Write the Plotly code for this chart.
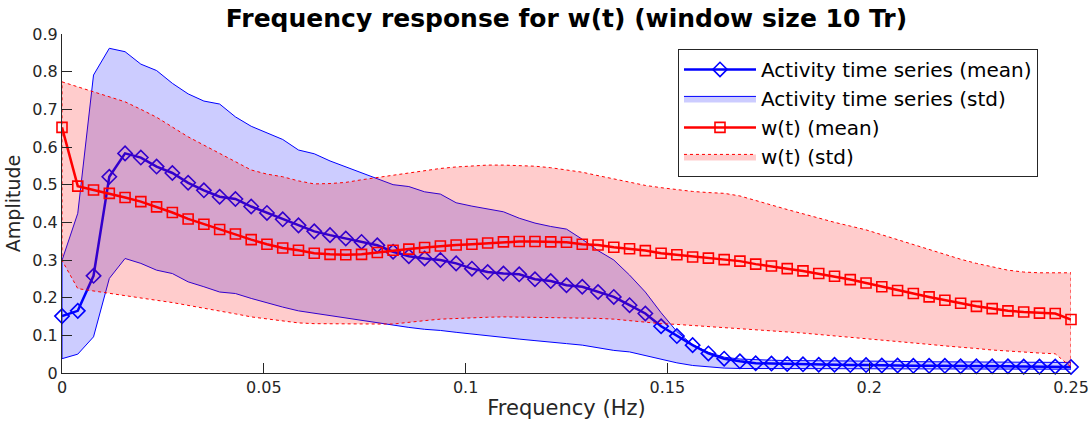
import plotly.graph_objects as go

# Frequency axis: 65 bins from 0 to 0.25 Hz
n_bins = 65
freq = [i * 0.25 / (n_bins - 1) for i in range(n_bins)]

act_mean = [0.151, 0.165, 0.258, 0.521, 0.583, 0.572, 0.548, 0.531, 0.505, 0.485,
            0.468, 0.462, 0.442, 0.425, 0.408, 0.392, 0.376, 0.366, 0.357, 0.348,
            0.339, 0.322, 0.310, 0.304, 0.300, 0.291, 0.277, 0.268, 0.264, 0.262,
            0.249, 0.244, 0.233, 0.229, 0.215, 0.202, 0.180, 0.158, 0.124, 0.098,
            0.074, 0.052, 0.038, 0.031, 0.026, 0.025, 0.024, 0.023, 0.022, 0.022,
            0.021, 0.021, 0.020, 0.020, 0.019, 0.019, 0.019, 0.018, 0.018, 0.018,
            0.018, 0.017, 0.017, 0.017, 0.016]

act_upper = [0.299, 0.424, 0.791, 0.862, 0.853, 0.820, 0.803, 0.769, 0.741, 0.722,
             0.714, 0.680, 0.655, 0.638, 0.620, 0.592, 0.582, 0.563, 0.547, 0.530,
             0.516, 0.500, 0.495, 0.481, 0.475, 0.452, 0.443, 0.435, 0.428, 0.411,
             0.398, 0.389, 0.382, 0.355, 0.325, 0.300, 0.260, 0.215, 0.160, 0.110,
             0.075, 0.055, 0.042, 0.037, 0.035, 0.034, 0.033, 0.033, 0.032, 0.032,
             0.032, 0.031, 0.031, 0.031, 0.030, 0.030, 0.030, 0.030, 0.029, 0.029,
             0.029, 0.029, 0.028, 0.028, 0.028]

act_lower = [0.038, 0.050, 0.096, 0.251, 0.304, 0.291, 0.273, 0.264, 0.242, 0.229,
             0.215, 0.211, 0.198, 0.186, 0.175, 0.165, 0.158, 0.152, 0.146, 0.140,
             0.134, 0.127, 0.121, 0.116, 0.113, 0.108, 0.103, 0.098, 0.094, 0.090,
             0.086, 0.083, 0.078, 0.074, 0.067, 0.060, 0.056, 0.047, 0.036, 0.027,
             0.020, 0.016, 0.013, 0.012, 0.011, 0.011, 0.011, 0.011, 0.011, 0.011,
             0.010, 0.010, 0.010, 0.010, 0.010, 0.010, 0.010, 0.010, 0.010, 0.010,
             0.010, 0.010, 0.010, 0.010, 0.010]

w_mean = [0.652, 0.496, 0.486, 0.477, 0.466, 0.455, 0.441, 0.426, 0.409, 0.395,
          0.381, 0.369, 0.354, 0.342, 0.332, 0.326, 0.318, 0.315, 0.314, 0.315,
          0.320, 0.326, 0.329, 0.333, 0.337, 0.340, 0.342, 0.345, 0.348, 0.349,
          0.349, 0.348, 0.347, 0.342, 0.340, 0.334, 0.330, 0.325, 0.318, 0.314,
          0.308, 0.305, 0.301, 0.297, 0.289, 0.284, 0.277, 0.271, 0.264, 0.257,
          0.248, 0.239, 0.229, 0.219, 0.211, 0.202, 0.193, 0.185, 0.177, 0.171,
          0.165, 0.162, 0.159, 0.158, 0.142]

w_upper = [0.773, 0.760, 0.747, 0.734, 0.720, 0.700, 0.679, 0.653, 0.627, 0.605,
           0.583, 0.561, 0.539, 0.528, 0.521, 0.510, 0.502, 0.503, 0.506, 0.513,
           0.519, 0.526, 0.532, 0.538, 0.543, 0.547, 0.550, 0.552, 0.552, 0.550,
           0.549, 0.545, 0.539, 0.533, 0.524, 0.515, 0.506, 0.498, 0.492, 0.486,
           0.482, 0.479, 0.477, 0.470, 0.457, 0.446, 0.434, 0.422, 0.411, 0.400,
           0.390, 0.380, 0.367, 0.354, 0.340, 0.327, 0.314, 0.302, 0.291, 0.281,
           0.273, 0.268, 0.266, 0.266, 0.266]

w_lower = [0.299, 0.224, 0.217, 0.211, 0.205, 0.199, 0.193, 0.187, 0.180, 0.172,
           0.165, 0.157, 0.149, 0.143, 0.138, 0.133, 0.131, 0.130, 0.130, 0.130,
           0.130, 0.130, 0.134, 0.139, 0.143, 0.145, 0.147, 0.148, 0.149, 0.149,
           0.149, 0.148, 0.147, 0.146, 0.145, 0.143, 0.139, 0.135, 0.131, 0.129,
           0.127, 0.124, 0.121, 0.118, 0.115, 0.112, 0.109, 0.106, 0.102, 0.098,
           0.095, 0.092, 0.088, 0.084, 0.080, 0.076, 0.072, 0.068, 0.065, 0.061,
           0.058, 0.055, 0.053, 0.051, 0.016]

x_ticks = [0, 0.05, 0.1, 0.15, 0.2, 0.25]
x_tick_labels = ["0", "0.05", "0.1", "0.15", "0.2", "0.25"]
y_ticks = [0, 0.1, 0.2, 0.3, 0.4, 0.5, 0.6, 0.7, 0.8, 0.9]
y_tick_labels = ["0", "0.1", "0.2", "0.3", "0.4", "0.5", "0.6", "0.7", "0.8", "0.9"]

FONT = "DejaVu Sans"
AX = "#262626"

poly_x = freq + freq[::-1] + [freq[0]]

fig = go.Figure()
fig.add_trace(go.Scatter(
    x=freq, y=act_mean, mode="lines+markers", name="Activity time series (mean)",
    line=dict(color="#0000FF", width=2.5),
    marker=dict(symbol="diamond-open", size=11, color="#0000FF", line=dict(width=1.6)),
    cliponaxis=False))
fig.add_trace(go.Scatter(
    x=poly_x, y=act_upper + act_lower[::-1] + [act_upper[0]], mode="lines",
    fill="toself", fillcolor="rgba(0,0,255,0.2)", name="Activity time series (std)",
    line=dict(color="#0000FF", width=1)))
fig.add_trace(go.Scatter(
    x=freq, y=w_mean, mode="lines+markers", name="w(t) (mean)",
    line=dict(color="#FF0000", width=2.5),
    marker=dict(symbol="square-open", size=10, color="#FF0000", line=dict(width=1.6)),
    cliponaxis=False))
fig.add_trace(go.Scatter(
    x=poly_x, y=w_upper + w_lower[::-1] + [w_upper[0]], mode="lines",
    fill="toself", fillcolor="rgba(255,0,0,0.2)", name="w(t) (std)",
    line=dict(color="#FF0000", width=1, dash="3px,3px")))

fig.update_layout(
    width=1089, height=425,
    margin=dict(l=62, r=18, t=34, b=52, autoexpand=False),
    paper_bgcolor="white", plot_bgcolor="white",
    font=dict(family=FONT, color=AX, size=16),
    title=dict(text="<b>Frequency response for w(t) (window size 10 Tr)</b>",
               x=(62 + 1071) / 2 / 1089, xanchor="center", y=1 - 18 / 425, yanchor="middle",
               font=dict(family=FONT, size=25, color="black")),
    showlegend=True,
    legend=dict(x=0.6105, y=0.956, xanchor="left", yanchor="top",
                bgcolor="white", bordercolor="#262626", borderwidth=1,
                font=dict(family=FONT, size=20, color="black"),
                itemwidth=72, tracegroupgap=0),
)
fig.update_xaxes(
    range=[0, 0.25], tickvals=x_ticks, ticktext=x_tick_labels, automargin=False,
    ticks="inside", ticklen=10, tickcolor=AX, showline=True, linecolor=AX, linewidth=1,
    showgrid=False, zeroline=False, mirror=False,
    title=dict(text="Frequency (Hz)", font=dict(size=21, color=AX), standoff=4),
    tickfont=dict(size=16, color=AX))
fig.update_yaxes(
    range=[0, 0.9], tickvals=y_ticks, ticktext=y_tick_labels, automargin=False,
    ticks="inside", ticklen=10, tickcolor=AX, showline=True, linecolor=AX, linewidth=1,
    showgrid=False, zeroline=False, mirror=False,
    title=dict(text="Amplitude", font=dict(size=19, color=AX), standoff=6),
    tickfont=dict(size=16, color=AX))

fig.write_html("out.html")
